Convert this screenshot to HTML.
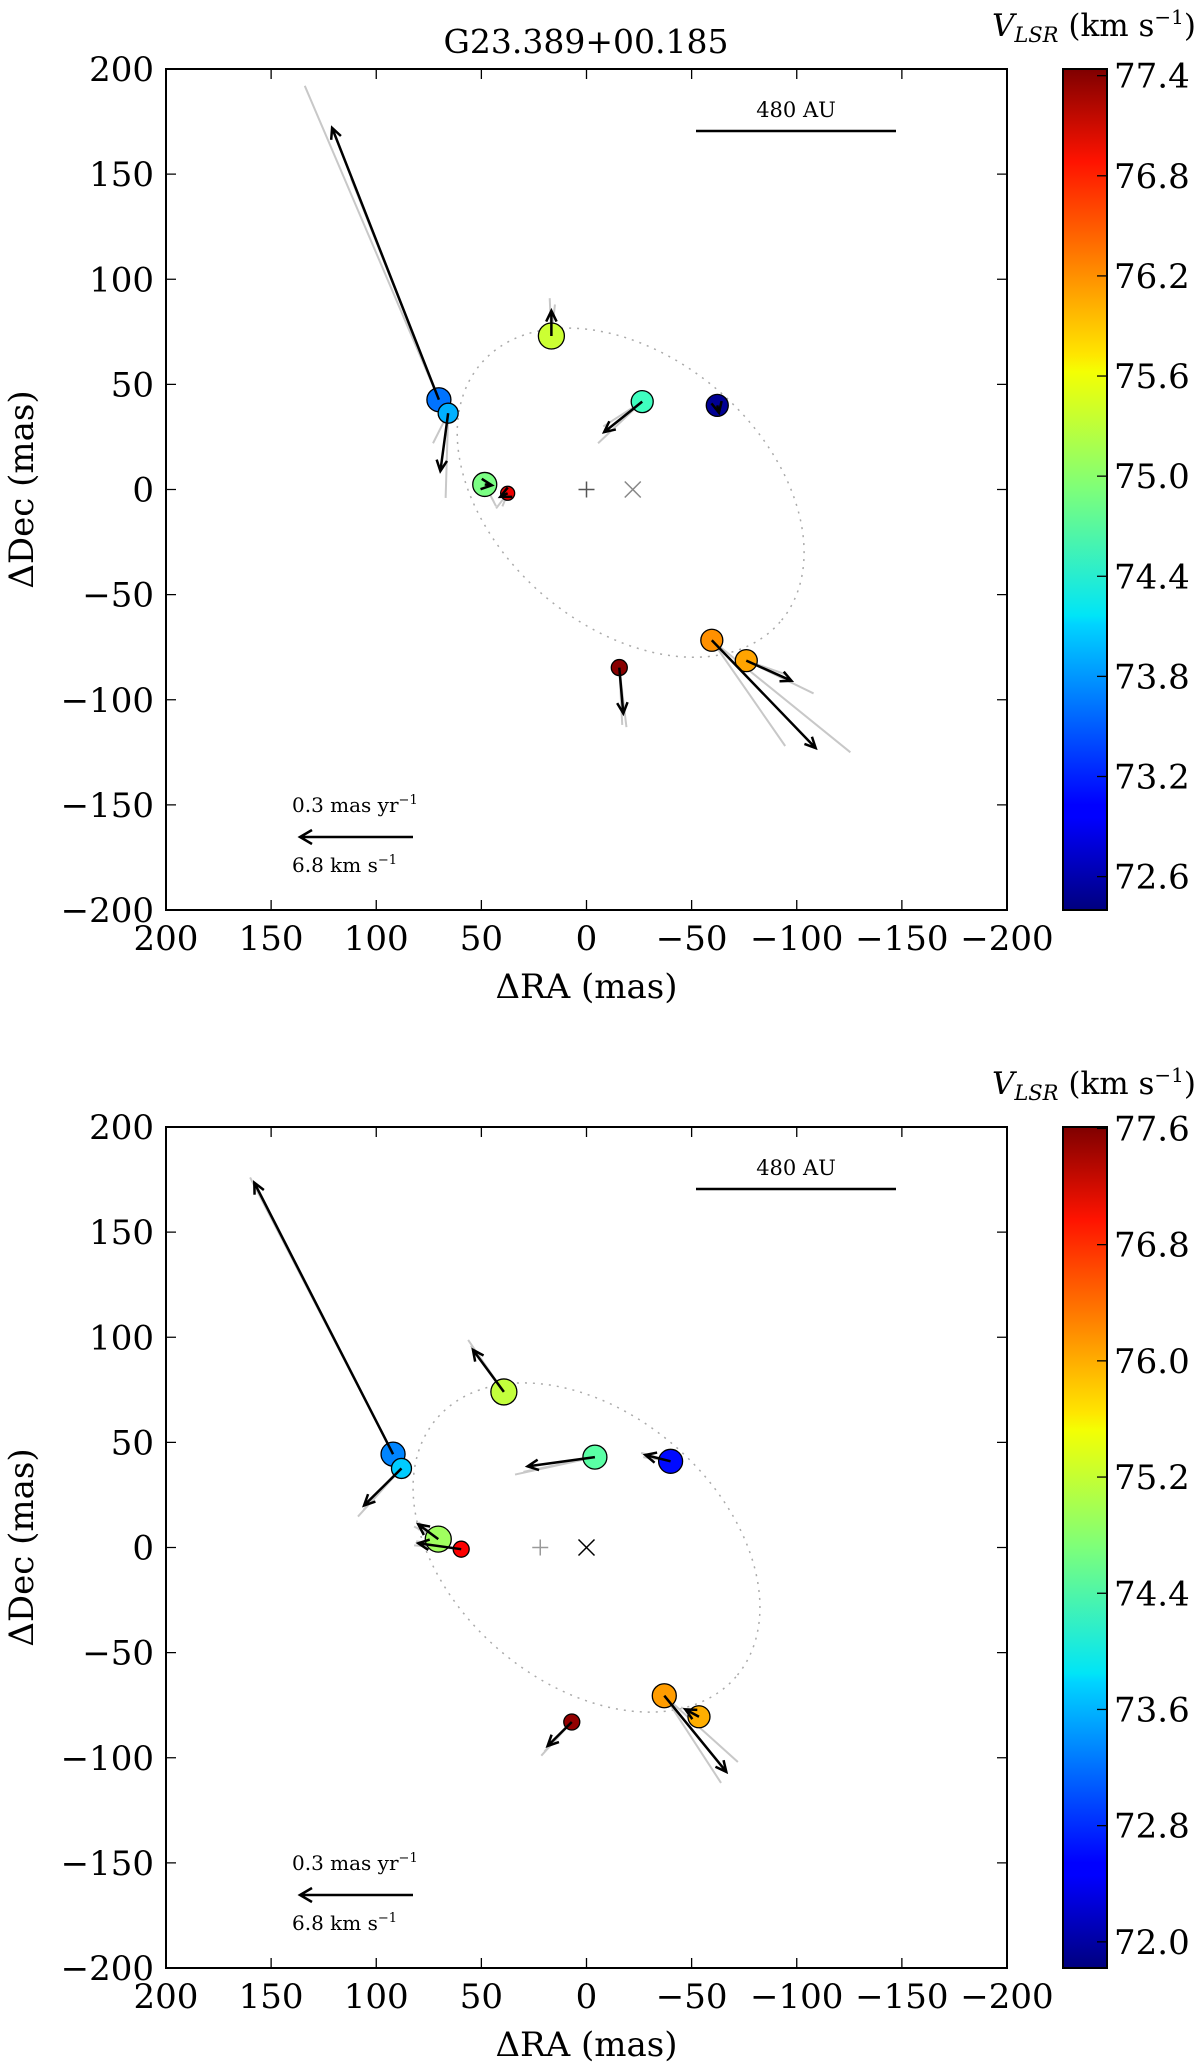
<!DOCTYPE html>
<html><head><meta charset="utf-8"><style>
html,body{margin:0;padding:0;background:#fff;}
svg{display:block;font-family:"DejaVu Serif","Liberation Serif",serif;}
</style></head><body>
<svg id="fig" width="1200" height="2066" viewBox="0 0 1200 2066" xmlns="http://www.w3.org/2000/svg">
<defs>
<linearGradient id="jet" x1="0" y1="1" x2="0" y2="0">
<stop offset="0" stop-color="#00007f"/><stop offset="0.11" stop-color="#0000ff"/><stop offset="0.125" stop-color="#0000ff"/>
<stop offset="0.34" stop-color="#00d4ff"/><stop offset="0.35" stop-color="#00e5f7"/><stop offset="0.5" stop-color="#7dff7a"/>
<stop offset="0.64" stop-color="#f4ff03"/><stop offset="0.66" stop-color="#ffe600"/><stop offset="0.89" stop-color="#ff1300"/>
<stop offset="1" stop-color="#7f0000"/></linearGradient>
</defs>
<text x="586" y="53" font-size="33" text-anchor="middle">G23.389+00.185</text>
</svg>
<script>
// ---------- Panel 1 data ----------
const p1RA   = [70.2, 65.8, 48.4, 37.5, 16.7, -26.5, -62.2, -59.6, -76.0, -15.6];
const p1Dec  = [42.7, 36.3, 2.4, -1.8, 73.0, 41.8, 40.0, -71.7, -81.4, -84.7];
const p1V    = [73.6, 73.9, 74.9, 76.9, 75.3, 74.6, 72.5, 76.1, 76.0, 77.4];
const p1Size = [12, 10, 12, 7, 13, 11, 11, 11, 11, 8];
const p1EndRA  = [121, 69.5, 45, 41, 16.7, -8.4, -63, -109, -97.5, -17.5];
const p1EndDec = [172, 8.8, 2, -3.5, 85, 27.3, 36.5, -123, -91, -106.5];
const p1GaRA  = [134, 67, 43, 43, 17.5, -5.5, -63, -94.5, -108, -19];
const p1GaDec = [192, -4, -8, -9, 91, 22, 37, -122, -97, -113];
const p1GbRA  = [112, 73, 44, 40, 15, -8, -62, -125.5, -95, -17];
const p1GbDec = [148, 22, -6, -8, 88, 30, 37, -125, -88, -112];
const p1Ticks = [77.4, 76.8, 76.2, 75.6, 75.0, 74.4, 73.8, 73.2, 72.6];
const p1VRange = [72.40, 77.44];
const p1Plus = [0, 0], p1Cross = [-22, 0], p1Ell = [-21, -1.5, 94, 64, 40.9];

// ---------- Panel 2 data ----------
const p2RA   = [92, 88, 70.5, 59.6, 39.3, -4, -40, -37, -53.5, 7];
const p2Dec  = [44.4, 37.6, 4, -0.8, 74, 43, 41, -70.5, -80.5, -83];
const p2V    = [73.3, 73.7, 74.9, 76.9, 75.1, 74.5, 72.6, 76.0, 75.9, 77.5];
const p2Size = [12, 10, 13, 8, 13, 12, 12, 12, 11, 8];
const p2EndRA  = [158, 105.8, 80, 80, 54, 28, -28, -66.5, -47, 18.5];
const p2EndDec = [173.5, 20, 11, 2, 94, 38.6, 44, -106.7, -77, -94.4];
const p2GaRA  = [160, 108.7, 80, 82, 56.3, 34, -26, -64, -45, 21.5];
const p2GaDec = [176, 14.7, 12, 1, 98.7, 34.7, 45, -112, -76, -99];
const p2GbRA  = [156, 106, 82, 81, 55, 30, -27, -72, -48, 20];
const p2GbDec = [170, 18, 10, 3, 96, 36, 43, -102, -78, -97];
const p2Ticks = [77.6, 76.8, 76.0, 75.2, 74.4, 73.6, 72.8, 72.0];
const p2VRange = [71.82, 77.61];
const p2Plus = [22, 0], p2Cross = [0, 0], p2Ell = [0, 0, 94, 64, 40.9];

const axisTicks = [200, 150, 100, 50, 0, -50, -100, -150, -200];
const axisLabels = ["200","150","100","50","0","\u2212" + "50","\u2212" + "100","\u2212" + "150","\u2212" + "200"];

const NS = "http://www.w3.org/2000/svg";
const svg = document.getElementById('fig');
function mk(tag, attrs, parent) {
  const e = document.createElementNS(NS, tag);
  for (const k in attrs) e.setAttribute(k, attrs[k]);
  (parent || svg).appendChild(e);
  return e;
}
function jet(t) {
  t = Math.max(0, Math.min(1, t));
  const r = Math.min(Math.max(Math.min(4*t - 1.5, -4*t + 4.5), 0), 1);
  const g = Math.min(Math.max(Math.min(4*t - 0.5, -4*t + 3.5), 0), 1);
  const b = Math.min(Math.max(Math.min(4*t + 0.5, -4*t + 2.5), 0), 1);
  return `rgb(${Math.round(r*255)},${Math.round(g*255)},${Math.round(b*255)})`;
}

function panel(top, d) {
  const L = 166, R = 1007, T = top, B = top + 841;
  const sx = v => L + (200 - v) * (R - L) / 400;
  const sy = v => T + (200 - v) * (B - T) / 400;
  const g = mk('g', {});
  
  
  const el = mk('ellipse', {cx: sx(d.ell[0]), cy: sy(d.ell[1]), rx: d.ell[2]*2.1025, ry: d.ell[3]*2.1025,
    transform: `rotate(${d.ell[4]} ${sx(d.ell[0])} ${sy(d.ell[1])})`, fill: 'none', stroke: '#aaa', 'stroke-width': 1.5, 'stroke-dasharray': '2 6'}, g);
  
  
  const pl = mk('path', {d: `M${sx(d.plus[0])-8},${sy(d.plus[1])}h16M${sx(d.plus[0])},${sy(d.plus[1])-8}v16`, stroke: d.plusCol, 'stroke-width': 1.5}, g);
  
  
  const cr = mk('path', {d: `M${sx(d.cross[0])-8},${sy(d.cross[1])-8}l16,16M${sx(d.cross[0])+8},${sy(d.cross[1])-8}l-16,16`, stroke: d.crossCol, 'stroke-width': 1.5}, g);
  
  
  for (let i = 0; i < d.ra.length; i++) {
    const gl = mk('polyline', {points: `${sx(d.gaRA[i])},${sy(d.gaDec[i])} ${sx(d.ra[i])},${sy(d.dec[i])} ${sx(d.gbRA[i])},${sy(d.gbDec[i])}`,
      fill: 'none', stroke: '#c8c8c8', 'stroke-width': 2}, g);
    
    
  }
  for (let i = 0; i < d.ra.length; i++) {
    const c = mk('circle', {cx: sx(d.ra[i]), cy: sy(d.dec[i]), r: d.size[i], fill: jet((d.v[i]-d.vr[0])/(d.vr[1]-d.vr[0])), stroke: '#000', 'stroke-width': 1.3}, g);
    
    
  }
  for (let i = 0; i < d.ra.length; i++) {
    const x1 = sx(d.ra[i]), y1 = sy(d.dec[i]), x2 = sx(d.endRA[i]), y2 = sy(d.endDec[i]);
    const a = Math.atan2(y2 - y1, x2 - x1), h = 12;
    const p = `M${x1},${y1}L${x2},${y2}M${x2 - h*Math.cos(a - 0.45)},${y2 - h*Math.sin(a - 0.45)}L${x2},${y2}L${x2 - h*Math.cos(a + 0.45)},${y2 - h*Math.sin(a + 0.45)}`;
    const ar = mk('path', {d: p, stroke: '#000', 'stroke-width': 2.5, fill: 'none'}, g);
    
    
  }
  const fr = mk('rect', {x: L, y: T, width: R-L, height: B-T, fill: 'none', stroke: '#000', 'stroke-width': 2}, g);
  
  
  for (let k = 0; k < axisTicks.length; k++) {
    const v = axisTicks[k], x = sx(v), y = sy(v);
    mk('path', {d: `M${x},${B}v-10M${x},${T}v10M${L},${y}h10M${R},${y}h-10`, stroke: '#000', 'stroke-width': 1.3}, g);
    const tx = mk('text', {x: x, y: B + 40, 'font-size': 34, 'text-anchor': 'middle'}, g);
    tx.textContent = axisLabels[k];
    
    
    const ty = mk('text', {x: L - 12, y: y + 12, 'font-size': 34, 'text-anchor': 'end'}, g);
    ty.textContent = axisLabels[k];
    
    
  }
  const xl = mk('text', {x: (L+R)/2, y: B + 88, 'font-size': 34, 'text-anchor': 'middle'}, g);
  xl.textContent = '\u0394RA (mas)';
  
  
  const yl = mk('text', {x: 0, y: 0, 'font-size': 34, 'text-anchor': 'middle', transform: `translate(33 ${(T+B)/2}) rotate(-90)`}, g);
  yl.textContent = '\u0394Dec (mas)';
  
  
  const sb = mk('line', {x1: 696, x2: 896, y1: T + 62, y2: T + 62, stroke: '#000', 'stroke-width': 2.5}, g);
  
  
  const sbt = mk('text', {x: 796, y: T + 48, 'font-size': 21, 'text-anchor': 'middle'}, g);
  sbt.textContent = '480 AU';
  
  
  const ra = mk('path', {d: `M413,${T+768}H300M312,${T+761}L300,${T+768}L312,${T+775}`, stroke: '#000', 'stroke-width': 2.5, fill: 'none'}, g);
  
  
  const t1 = mk('text', {x: 292, y: T + 743, 'font-size': 20}, g);
  t1.innerHTML = '0.3 mas yr<tspan dy="-8" font-size="13">\u22121</tspan>';
  
  
  const t2 = mk('text', {x: 292, y: T + 803, 'font-size': 20}, g);
  t2.innerHTML = '6.8 km s<tspan dy="-8" font-size="13">\u22121</tspan>';
  
  
  const cb = mk('rect', {x: 1063, y: T, width: 44, height: B - T, fill: 'url(#jet)', stroke: '#000', 'stroke-width': 2}, g);
  
  
  const cy = v => B - (v - d.vr[0]) / (d.vr[1] - d.vr[0]) * (B - T);
  for (const v of d.ticks) {
    mk('line', {x1: 1097, x2: 1107, y1: cy(v), y2: cy(v), stroke: '#000', 'stroke-width': 1.3}, g);
    const ct = mk('text', {x: 1114, y: cy(v) + 12, 'font-size': 34}, g);
    ct.textContent = v.toFixed(1);
    
    
  }
  const cl = mk('text', {x: 1196, y: T - 33, 'font-size': 31, 'text-anchor': 'end'}, g);
  cl.innerHTML = '<tspan font-style="italic">V</tspan><tspan font-style="italic" font-size="21" dy="6">LSR</tspan><tspan dy="-6"> (km s</tspan><tspan dy="-12" font-size="20">\u22121</tspan><tspan dy="12">)</tspan>';
  
  
}

panel(69, {name: 'panel-epoch-1', ra: p1RA, dec: p1Dec, v: p1V, size: p1Size, endRA: p1EndRA, endDec: p1EndDec,
  gaRA: p1GaRA, gaDec: p1GaDec, gbRA: p1GbRA, gbDec: p1GbDec, ticks: p1Ticks, vr: p1VRange,
  plus: p1Plus, cross: p1Cross, ell: p1Ell, plusCol: '#555', crossCol: '#888'});
panel(1127, {name: 'panel-epoch-2', ra: p2RA, dec: p2Dec, v: p2V, size: p2Size, endRA: p2EndRA, endDec: p2EndDec,
  gaRA: p2GaRA, gaDec: p2GaDec, gbRA: p2GbRA, gbDec: p2GbDec, ticks: p2Ticks, vr: p2VRange,
  plus: p2Plus, cross: p2Cross, ell: p2Ell, plusCol: '#999', crossCol: '#000'});
</script>
</body></html>
